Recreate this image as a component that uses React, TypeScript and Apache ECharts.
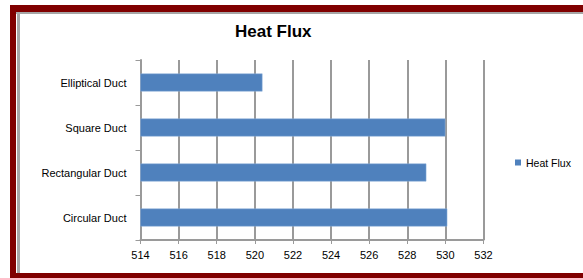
import React, { useEffect, useRef } from "react";
import * as echarts from "echarts";

const categories = ["Circular Duct", "Rectangular Duct", "Square Duct", "Elliptical Duct"];
const heatFlux = [530.1, 529, 530, 520.4];
const seriesName = "Heat Flux";
const titleText = "Heat Flux";
const xMin = 514;
const xMax = 532;
const xStep = 2;

const FONT = '"Liberation Sans", Arial, sans-serif';
const GRID_COLOR = "#9a9a9a";
const RED = "#800000";

export default function App() {
  const ref = useRef<HTMLDivElement>(null);
  useEffect(() => {
    if (!ref.current) return;
    const chart = echarts.init(ref.current, undefined, { renderer: "svg" });
    chart.setOption({
      animation: false,
      backgroundColor: "#ffffff",
      title: {
        text: titleText,
        left: 235,
        top: 23,
        padding: 0,
        textStyle: { fontFamily: FONT, fontSize: 17, fontWeight: "bold", color: "#000" },
      },
      legend: {
        left: 515,
        top: 157,
        padding: 0,
        itemWidth: 6,
        itemHeight: 6,
        icon: "rect",
        data: [seriesName],
        itemStyle: { borderWidth: 0, color: "#4f81bd" },
        textStyle: { fontFamily: FONT, fontSize: 10.5, color: "#000", padding: [0, 0, 0, 0] },
      },
      grid: { left: 140.5, right: 99.5, top: 60, bottom: 38, containLabel: false },
      xAxis: {
        type: "value",
        min: xMin,
        max: xMax,
        interval: xStep,
        axisLine: { show: true, lineStyle: { color: GRID_COLOR, width: 2 } },
        axisTick: { show: true, length: 4, lineStyle: { color: GRID_COLOR, width: 1 } },
        axisLabel: { margin: 9, fontFamily: FONT, fontSize: 11, color: "#000" },
        splitLine: { show: true, lineStyle: { color: GRID_COLOR, width: 2 } },
      },
      yAxis: {
        type: "category",
        data: categories,
        axisLine: { show: true, lineStyle: { color: GRID_COLOR, width: 2 } },
        axisTick: { show: true, length: 5, inside: false, lineStyle: { color: GRID_COLOR, width: 1 } },
        axisLabel: { margin: 14, fontFamily: FONT, fontSize: 11, color: "#000" },
        splitLine: { show: false },
      },
      series: [
        {
          name: seriesName,
          type: "bar",
          data: heatFlux,
          barWidth: "40%",
          itemStyle: { color: "#4f81bd", borderColor: "#8fb0dc", borderWidth: 0.5 },
        },
      ],
      graphic: [
        { type: "rect", shape: { x: 10, y: 5, width: 600, height: 7 }, style: { fill: RED }, silent: true },
        { type: "rect", shape: { x: 10, y: 5, width: 6, height: 280 }, style: { fill: RED }, silent: true },
        { type: "rect", shape: { x: 10, y: 273, width: 600, height: 10 }, style: { fill: RED }, silent: true },
        { type: "rect", shape: { x: 16, y: 12, width: 600, height: 2 }, style: { fill: "#a6a6a6" }, silent: true },
        { type: "rect", shape: { x: 17, y: 12, width: 3, height: 261 }, style: { fill: "#a6a6a6" }, silent: true },
      ],
    });
    return () => chart.dispose();
  }, []);
  return (
    <div
      ref={ref}
      style={{ position: "absolute", left: 0, top: 0, width: 583, height: 278 }}
    />
  );
}
